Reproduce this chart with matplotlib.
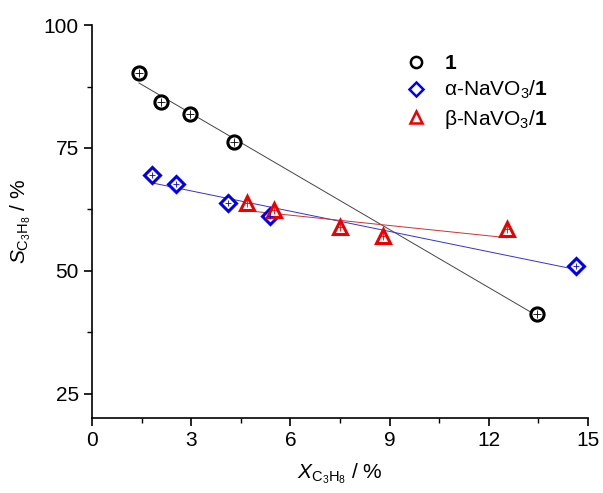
import numpy as np
import matplotlib
matplotlib.use("Agg")
import matplotlib.pyplot as plt
from matplotlib.lines import Line2D
from matplotlib.ticker import MultipleLocator

plt.rcParams['font.family'] = ['Liberation Sans', 'DejaVu Sans']
plt.rcParams['mathtext.fontset'] = 'custom'
plt.rcParams['mathtext.rm'] = 'Liberation Sans'
plt.rcParams['mathtext.it'] = 'Liberation Sans:italic'
plt.rcParams['mathtext.bf'] = 'Liberation Sans:bold'

# Data (conversion X, selectivity S)
x_1 = [1.42, 2.09, 2.96, 4.29, 13.46]
s_1 = [90.2, 84.3, 81.9, 76.2, 41.1]
x_alpha = [1.81, 2.54, 4.11, 5.38, 14.64]
s_alpha = [69.4, 67.6, 63.7, 61.1, 50.9]
x_beta = [4.69, 5.50, 7.50, 8.80, 12.55]
s_beta = [63.7, 62.3, 58.8, 57.0, 58.4]

labels = [r'$\mathbf{1}$', r'α-NaVO$_3$/$\mathbf{1}$', r'β-NaVO$_3$/$\mathbf{1}$']
colors = ['black', '#0000ee', '#ee0000']
markers = ['o', 'D', '^']
msizes = [9.5, 8.5, 10.5]

fig = plt.figure(figsize=(6.03, 4.93), dpi=100)
ax = fig.add_axes([0.1526, 0.152, 0.8225, 0.797])

series = [(x_1, s_1), (x_alpha, s_alpha), (x_beta, s_beta)]
line_colors = ['#444444', '#3333cc', '#cc3333']
for (xs, ys), c, lc, m, ms in zip(series, colors, line_colors, markers, msizes):
    xs = np.array(xs); ys = np.array(ys)
    k, b = np.polyfit(xs, ys, 1)
    xf = np.array([xs.min(), xs.max()])
    ax.plot(xf, k * xf + b, color=lc, lw=0.7, zorder=2)
    ax.plot(xs, ys, linestyle='none', marker=m, ms=ms, mfc='white', mec=c, mew=2.2, zorder=3)
    ax.plot(xs, ys, linestyle='none', marker='+', ms=ms * 0.55, mec=c, mew=0.6, zorder=4)

handles = [Line2D([], [], linestyle='none', marker=m, ms=ms * 0.85, mfc='none', mec=c, mew=1.8)
           for m, c, ms in zip(markers, colors, msizes)]
ax.legend(handles, labels, loc='upper left', bbox_to_anchor=(0.595, 0.948), frameon=False,
          fontsize=15, handletextpad=0.35, labelspacing=0.3, borderaxespad=0)

ax.set_xlim(0, 15)
ax.set_ylim(20, 100)
ax.xaxis.set_major_locator(MultipleLocator(3))
ax.xaxis.set_minor_locator(MultipleLocator(1.5))
ax.set_yticks([25, 50, 75, 100])
ax.yaxis.set_minor_locator(MultipleLocator(12.5))
ax.spines['top'].set_visible(False)
ax.spines['right'].set_visible(False)
for sp in ['left', 'bottom']:
    ax.spines[sp].set_linewidth(1.2)
ax.tick_params(which='major', direction='out', length=6, width=1.2, labelsize=15)
ax.tick_params(which='minor', direction='out', length=3.5, width=1.0)
ax.set_xlabel(r'$X_{\mathregular{C_3H_8}}$ / %', fontsize=15, labelpad=8)
ax.set_ylabel(r'$S_{\mathregular{C_3H_8}}$ / %', fontsize=15, labelpad=8)

fig.savefig('out.png', dpi=100)
